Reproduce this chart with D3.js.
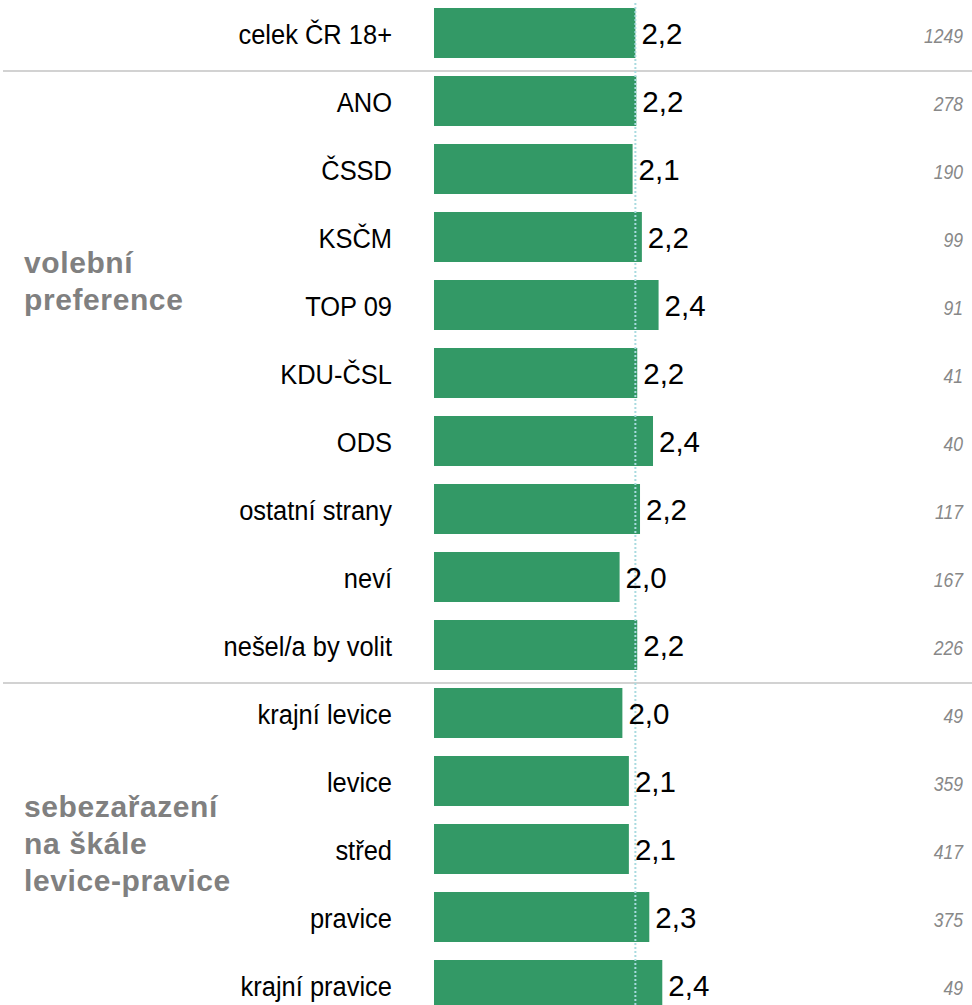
<!DOCTYPE html>
<html><head><meta charset="utf-8">
<script src="https://cdn.jsdelivr.net/npm/d3@7"></script>
<style>html,body{margin:0;padding:0;background:#fff;}svg{display:block;}</style>
</head><body>
<svg id="c" width="972" height="1005"></svg>
<script>
const categories = ["celek ČR 18+","ANO","ČSSD","KSČM","TOP 09","KDU-ČSL","ODS","ostatní strany","neví","nešel/a by volit","krajní levice","levice","střed","pravice","krajní pravice"];
const values = [2.17,2.18,2.14,2.24,2.42,2.19,2.36,2.22,2.00,2.19,2.03,2.10,2.10,2.32,2.46];
const valueLabels = ["2,2","2,2","2,1","2,2","2,4","2,2","2,4","2,2","2,0","2,2","2,0","2,1","2,1","2,3","2,4"];
const counts = ["1249","278","190","99","91","41","40","117","167","226","49","359","417","375","49"];
const groupLabels = [
  {anchor:"KSČM", lines:["volební","preference"]},
  {anchor:"levice", lines:["sebezařazení","na škále","levice-pravice"]}
];
const separatorsBefore = ["ANO","krajní levice"];
const referenceValue = 2.17;

const svg = d3.select("#c");
const x = d3.scaleLinear().domain([0, 2.5]).range([434, 434 + 232]);
const y = d3.scaleBand().domain(categories).range([-1, 1019]).paddingInner(18/68).paddingOuter(9/68);
const bw = y.bandwidth();
const font = "'Liberation Sans', Arial, sans-serif";

// separators
svg.selectAll("line.sep").data(separatorsBefore).join("line")
  .attr("x1", 3).attr("x2", 972)
  .attr("y1", d => y(d) - 5).attr("y2", d => y(d) - 5)
  .attr("stroke", "#d2d2d2").attr("stroke-width", 2);

// bars
svg.selectAll("rect.bar").data(categories).join("rect")
  .attr("x", x(0)).attr("y", d => y(d))
  .attr("width", (d,i) => x(values[i]) - x(0)).attr("height", bw)
  .attr("fill", "#339966");

// reference dotted line
svg.append("line")
  .attr("x1", x(referenceValue)).attr("x2", x(referenceValue))
  .attr("y1", 3).attr("y2", 1005)
  .attr("stroke", "#a9dbe0").attr("stroke-width", 2).attr("stroke-dasharray", "2,2");

// category labels (slightly condensed)
svg.selectAll("text.cat").data(categories).join("text")
  .attr("transform", d => `translate(392,${y(d) + bw/2 + 10.5}) scale(0.91,1)`)
  .attr("text-anchor", "end")
  .attr("font-family", font).attr("font-size", 28).attr("fill", "#000")
  .text(d => d);

// value labels
svg.selectAll("text.val").data(categories).join("text")
  .attr("x", (d,i) => x(values[i]) + 6).attr("y", d => y(d) + bw/2 + 10.5)
  .attr("font-family", font).attr("font-size", 29.5).attr("fill", "#000")
  .text((d,i) => valueLabels[i]);

// counts
svg.selectAll("text.cnt").data(categories).join("text")
  .attr("transform", d => `translate(963,${y(d) + bw/2 + 10}) scale(0.9,1)`)
  .attr("text-anchor", "end")
  .attr("font-family", font).attr("font-size", 19.5).attr("font-style", "italic").attr("fill", "#888")
  .text((d,i) => counts[i]);

// group labels
groupLabels.forEach(g => {
  const t = svg.append("text")
    .attr("font-family", font).attr("font-size", 30).attr("font-weight", "bold")
    .attr("letter-spacing", 0.6).attr("fill", "#808080");
  g.lines.forEach((ln, j) => {
    t.append("tspan").attr("x", 24).attr("y", y(g.anchor) + bw/2 + 35.5 + j*37).text(ln);
  });
});
</script>
</body></html>
